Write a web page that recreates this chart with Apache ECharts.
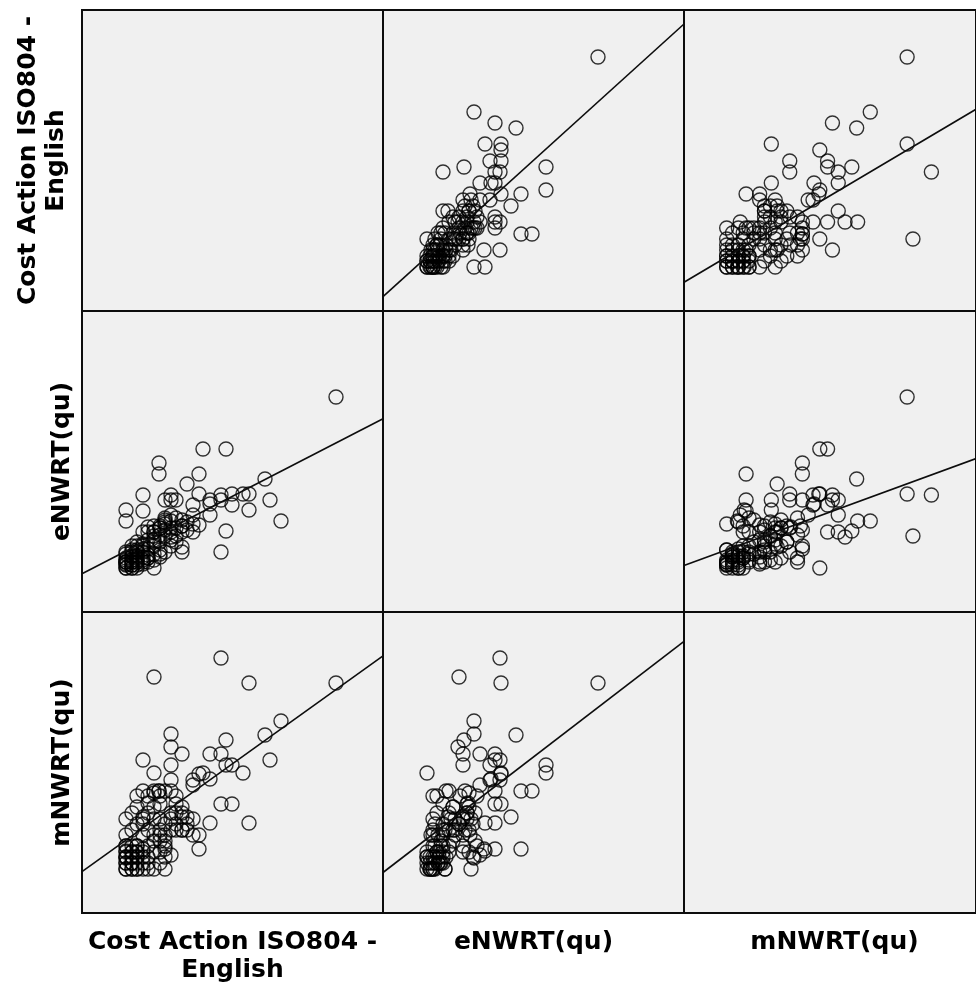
<!DOCTYPE html>
<html><head><meta charset="utf-8">
<script src="https://cdn.jsdelivr.net/npm/echarts@6/dist/echarts.min.js"></script>
<style>html,body{margin:0;padding:0;background:#fff}#c{width:976px;height:985px}</style>
</head><body><div id="c"></div>
<script>
// Variable labels (matrix order)
const varLabels = ['Cost Action ISO804 -\nEnglish', 'eNWRT(qu)', 'mNWRT(qu)'];

// Scores (same arbitrary scale for each variable, no ticks shown)
const cost = [254,167,139,72,199,188,183,167,161,121,144,144,72,117,77,77,105,89,89,89,100,128,139,150,150,139,94,128,128,117,111,111,117,111,105,100,100,83,83,89,61,61,44,44,89,
44,44,44,44,44,44,44,50,50,50,50,50,50,50,50,55,55,55,55,55,55,55,50,44,55,44,50,55,
44,44,50,50,55,55,61,61,66,66,72,61,
61,61,61,61,66,66,66,66,72,72,78,78,83,83,
89,89,94,94,100,100,105,111,89,94,
55,61,66,72,78,83,89,94,72,
72,72,78,78,78,83,83,83,72,78,
66,78,100,61];
const eNWRT = [215,118,117,76,91,112,133,102,118,163,163,81,44,138,149,138,128,91,75,80,80,97,112,118,107,60,112,112,108,118,107,97,87,80,82,60,65,88,112,97,117,101,91,102,117,
44,47,50,54,58,44,50,44,47,52,56,60,50,44,62,47,52,56,60,66,50,44,55,60,62,52,47,54,
48,50,50,66,60,70,50,68,54,72,70,52,
48,55,60,66,50,57,63,80,52,80,58,86,90,94,
66,72,76,84,86,92,90,88,84,70,
50,63,54,66,77,82,112,94,86,
58,72,62,70,84,60,76,92,80,55,
85,84,86,80];
const mNWRT = [230,230,255,236,192,153,178,90,140,140,148,173,140,64,122,122,96,179,166,148,159,159,159,109,148,109,109,90,134,139,133,128,78,78,83,83,96,44,64,58,153,64,55,62,133,
44,50,56,61,67,56,44,50,44,56,61,67,50,61,44,44,50,56,61,67,67,56,50,50,44,67,56,61,
78,94,83,100,89,106,78,94,100,83,106,89,
44,50,56,61,44,50,56,67,44,61,50,61,56,67,
83,94,89,100,83,100,89,94,100,83,
117,122,117,122,117,122,122,117,120,
72,78,83,72,94,78,89,72,94,78,
110,109,106,96];

// Fit lines: y = intercept + slope * x  (row var on y, column var on x)
const fitRow = [0, 0, 1, 1, 2, 2];
const fitCol = [1, 2, 0, 2, 0, 1];
const fitIntercept = [14.3, 28.7, 38.3, 46.6, 41.3, 40.5];
const fitSlope = [0.906, 0.575, 0.515, 0.355, 0.717, 0.768];

const axisMin = 0, axisMax = 301;

const vars = [cost, eNWRT, mNWRT];
const L0 = 82, T0 = 10, CELL = 301;
const FONT = 'DejaVu Sans';

const grid = [], xAxis = [], yAxis = [], series = [];
for (let r = 0; r < 3; r++) {
  for (let c = 0; c < 3; c++) {
    const gi = r * 3 + c;
    grid.push({left: L0 + c * CELL, top: T0 + r * CELL, width: CELL, height: CELL,
      show: true, backgroundColor: '#f0f0f0', borderColor: '#0d0d0d', borderWidth: 2, containLabel: false});
    xAxis.push({type: 'value', gridIndex: gi, min: axisMin, max: axisMax, show: false});
    yAxis.push({type: 'value', gridIndex: gi, min: axisMin, max: axisMax, show: false});
    if (r !== c) {
      series.push({
        type: 'scatter', xAxisIndex: gi, yAxisIndex: gi, silent: true,
        symbol: 'circle', symbolSize: 14,
        itemStyle: {color: 'rgba(0,0,0,0)', borderColor: '#000', borderWidth: 1.4},
        data: vars[c].map((v, i) => [v, vars[r][i]])
      });
    }
  }
}
for (let k = 0; k < fitRow.length; k++) {
  const gi = fitRow[k] * 3 + fitCol[k];
  series.push({
    type: 'line', xAxisIndex: gi, yAxisIndex: gi, silent: true, symbol: 'none',
    lineStyle: {color: '#0d0d0d', width: 1.6},
    data: [[axisMin, fitIntercept[k] + fitSlope[k] * axisMin], [axisMax, fitIntercept[k] + fitSlope[k] * axisMax]]
  });
}

const graphic = [];
const lh = 28;
for (let c = 0; c < 3; c++) {
  const lines = varLabels[c].split('\n').length;
  graphic.push({type: 'text', x: L0 + c * CELL + CELL / 2, y: 942 + (lines - 1) * lh / 2,
    style: {text: varLabels[c], fontFamily: FONT, fontSize: 25, fontWeight: 'bold', fill: '#000',
      align: 'center', verticalAlign: 'middle', lineHeight: lh}});
}
for (let r = 0; r < 3; r++) {
  const lines = varLabels[r].split('\n').length;
  graphic.push({type: 'text', x: 62 - (lines - 1) * lh / 2 - (lines > 1 ? 6 : 0), y: T0 + r * CELL + CELL / 2,
    rotation: Math.PI / 2,
    style: {text: varLabels[r], fontFamily: FONT, fontSize: 25, fontWeight: 'bold', fill: '#000',
      align: 'center', verticalAlign: 'middle', lineHeight: lh}});
}

const chart = echarts.init(document.getElementById('c'), null, {renderer: 'canvas'});
chart.setOption({animation: false, backgroundColor: '#fff', grid, xAxis, yAxis, series, graphic});
</script></body></html>
